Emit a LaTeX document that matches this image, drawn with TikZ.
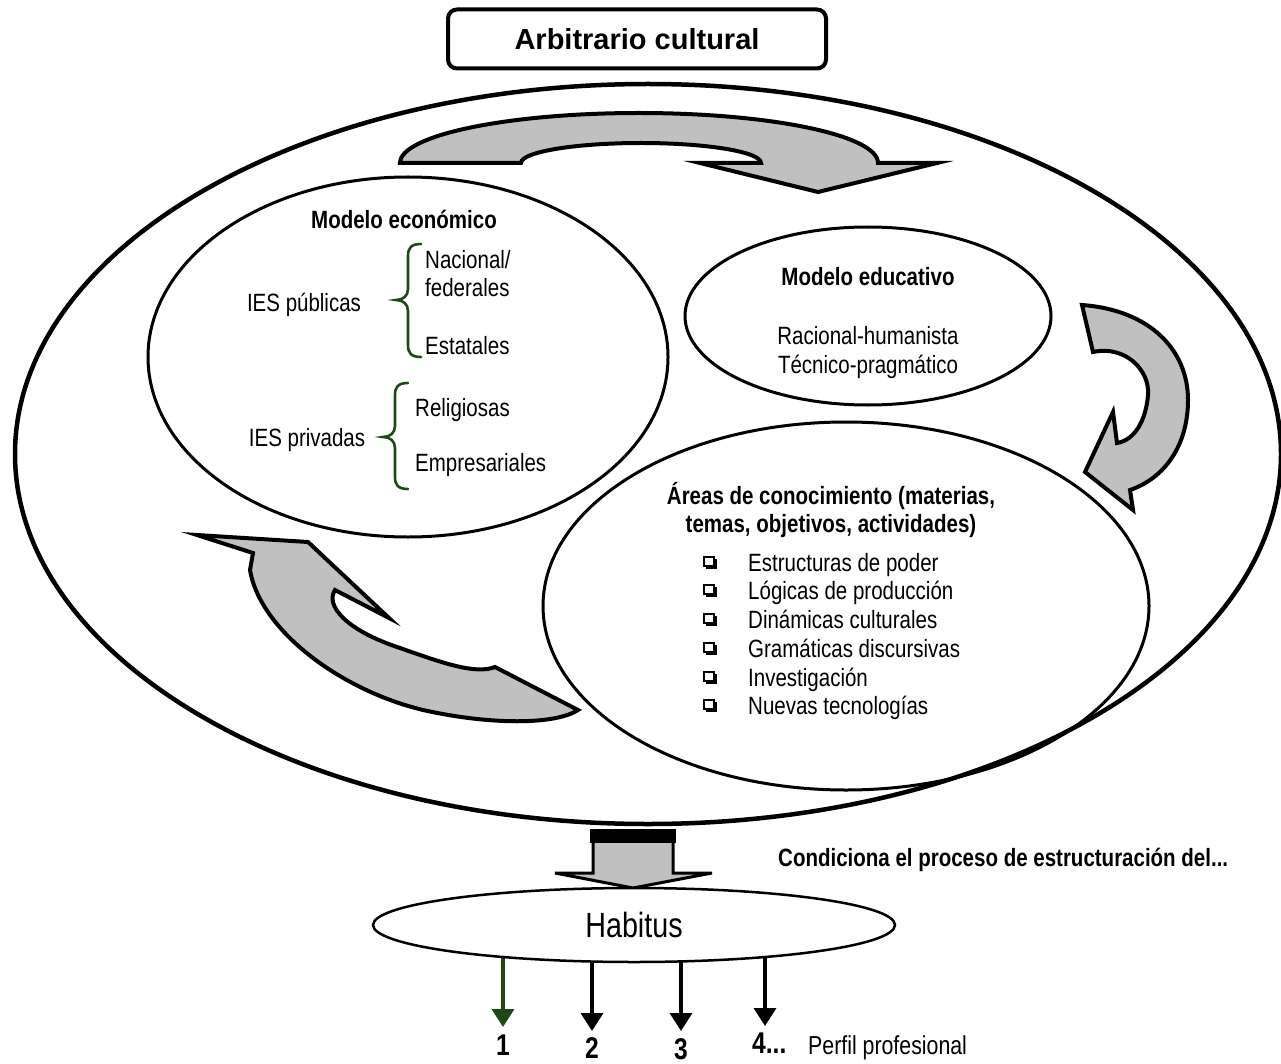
\documentclass[tikz,border=0pt]{standalone}
\usepackage{fontspec}
\setmainfont[FakeStretch=0.82]{Liberation Sans}
\newfontfamily\widefont{Liberation Sans}
\usetikzlibrary{shapes.geometric,arrows.meta,backgrounds}
\definecolor{brgreen}{RGB}{30,72,22}
\definecolor{arrgray}{RGB}{192,192,192}
\begin{document}
\begin{tikzpicture}[x=1pt,y=-1pt,
  txt/.style={font=\fontsize{25}{29}\selectfont, inner sep=0pt},
  btxt/.style={font=\fontsize{25}{29}\selectfont\bfseries, inner sep=0pt},
  oval/.style={draw, ellipse, line width=3pt, inner sep=0pt},
  blockarrow/.style={fill=arrgray, draw=black, line width=4pt, line join=miter},
  downarr/.style={line width=3.5pt, -{Triangle[width=22pt,length=18pt]}},
  brace/.style={draw=brgreen, line width=2.6pt, line cap=round},
  numtxt/.style={font=\fontsize{30}{34}\selectfont\bfseries, inner sep=0pt}
]
\useasboundingbox (0,0) rectangle (1281,1064);
\begin{pgfonlayer}{background}
\fill[white] (0,0) rectangle (1281,1064);
\end{pgfonlayer}

% title
\node[draw, line width=4pt, rounded corners=9pt, minimum width=378pt, minimum height=59pt,
      font=\widefont\fontsize{29}{33}\selectfont\bfseries] (title) at (637,39) {Arbitrario cultural};

% ellipses
\node[oval, line width=4.5pt, minimum width=1266pt, minimum height=740pt] (outer) at (648,454) {};
\node[oval, minimum width=520pt, minimum height=360pt] (econ) at (408,357) {};
\node[oval, minimum width=366pt, minimum height=178pt] (edu) at (868,316) {};
\node[oval, minimum width=606pt, minimum height=368pt] (areas) at (846,606) {};

% curved block arrows
\draw[blockarrow] (400,163) arc[start angle=180,end angle=0,x radius=239pt,y radius=50pt]
  -- (937,163) -- (818,192) -- (700,163) -- (761,163)
  arc[start angle=0,end angle=180,x radius=120pt,y radius=20pt] -- cycle;
\draw[blockarrow] (1082,305) .. controls (1150,310) and (1188,350) .. (1188,400)
  .. controls (1188,445) and (1165,478) .. (1130,490) -- (1133,510) -- (1085,472)
  -- (1113,412) -- (1117,443) .. controls (1135,440) and (1146,420) .. (1148,395)
  .. controls (1150,370) and (1125,345) .. (1093,352) -- cycle;
\draw[blockarrow] (197,535) -- (308,542) -- (389,618) -- (335,590)
  .. controls (325,605) and (345,630) .. (400,648)
  .. controls (440,662) and (475,675) .. (495,667) -- (578,710)
  .. controls (555,725) and (490,725) .. (423,710)
  .. controls (340,690) and (260,630) .. (250,570) -- (253,553) -- cycle;

% economic model
\node[btxt, anchor=base] (econT) at (404,229) {Modelo económico};
\node[txt, anchor=base] (pub) at (304,312) {IES públicas};
\node[txt, anchor=base west] (nac) at (425,269) {Nacional/};
\node[txt, anchor=base west] (fed) at (425,297) {federales};
\node[txt, anchor=base west] (est) at (425,354) {Estatales};
\node[txt, anchor=base] (priv) at (307,446) {IES privadas};
\node[txt, anchor=base west] (rel) at (415,416) {Religiosas};
\node[txt, anchor=base west] (emp) at (415,471) {Empresariales};
\draw[brace] (421,244) .. controls (411,244) and (408,248) .. (408,256) -- (408,289)
  .. controls (408,296) and (403,300) .. (396,300) .. controls (403,300) and (408,304) .. (408,311)
  -- (408,345) .. controls (408,353) and (411,357) .. (421,357);
\draw[brace] (408,383) .. controls (398,383) and (395,387) .. (395,395) -- (395,426)
  .. controls (395,433) and (390,437) .. (383,437) .. controls (390,437) and (395,441) .. (395,448)
  -- (395,477) .. controls (395,485) and (398,489) .. (408,489);

% educational model
\node[btxt, anchor=base] (eduT) at (868,286) {Modelo educativo};
\node[txt, anchor=base] (rac) at (868,344) {Racional-humanista};
\node[txt, anchor=base] (tec) at (868,373) {Técnico-pragmático};

% areas
\node[btxt, anchor=base] (ar1) at (831,504) {Áreas de conocimiento (materias,};
\node[btxt, anchor=base] (ar2) at (831,532) {temas, objetivos, actividades)};
\foreach \yy/\lab/\nm in {562/Estructuras de poder/l1, 590/Lógicas de producción/l2,
  619/Dinámicas culturales/l3, 648/Gramáticas discursivas/l4, 677/Investigación/l5,
  705/Nuevas tecnologías/l6} {
  \fill (706,\yy-3) rectangle (717,\yy+7);
  \draw[fill=white, line width=1.3pt] (704,\yy-5) rectangle (714,\yy+4);
  \node[txt, anchor=base west] (\nm) at (748,\yy+9) {\lab};
}

% bottom
\draw[fill=arrgray, line width=3pt, line join=miter] (593,838) -- (673,838) -- (673,873)
  -- (712,873) -- (633,888) -- (555,873) -- (593,873) -- cycle;
\fill (590,829) rectangle (676,843);
\node[btxt, anchor=base west] (cond) at (778,866) {Condiciona el proceso de estructuración del...};

\node[draw, ellipse, line width=2.5pt, fill=white, minimum width=522pt, minimum height=74pt,
      inner sep=0pt, font=\fontsize{35}{40}\selectfont] (hab) at (634,925) {Habitus};

\node[numtxt, anchor=base] (n1) at (503,1055) {1};
\node[numtxt, anchor=base] (n2) at (592,1058) {2};
\node[numtxt, anchor=base] (n3) at (681,1059) {3};
\node[numtxt, anchor=base west] (n4) at (752,1053) {4...};
\node[txt, font=\fontsize{26}{30}\selectfont, anchor=base west] (perf) at (808,1054) {Perfil profesional};
\coordinate (e1) at (503,1027);
\coordinate (e2) at (592,1031);
\coordinate (e3) at (681,1031);
\coordinate (e4) at (765,1026);
\begin{pgfonlayer}{background}
\draw[downarr, draw=brgreen, fill=brgreen] (hab.center -| e1) -- (e1);
\draw[downarr] (hab.center -| e2) -- (e2);
\draw[downarr] (hab.center -| e3) -- (e3);
\draw[downarr] (hab.center -| e4) -- (e4);
\end{pgfonlayer}
\end{tikzpicture}
\end{document}
